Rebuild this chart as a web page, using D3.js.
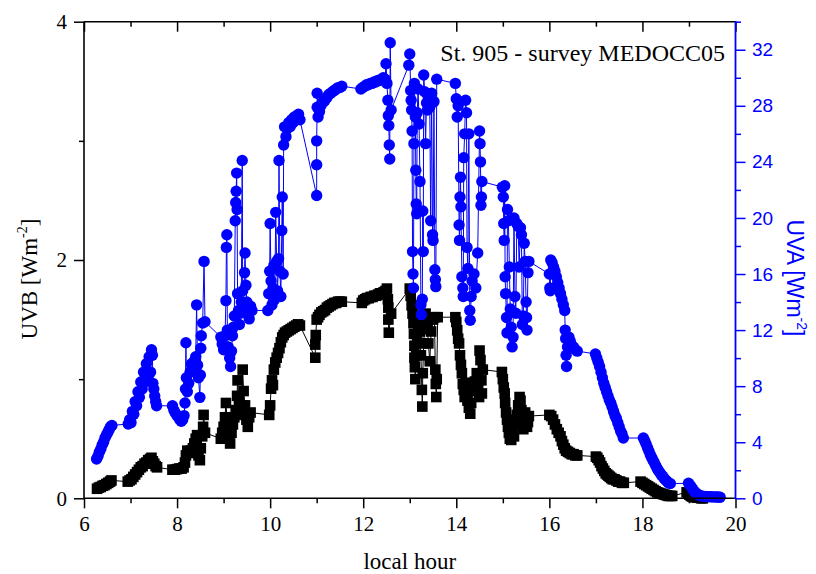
<!DOCTYPE html>
<html>
<head>
<meta charset="utf-8">
<script src="https://cdn.jsdelivr.net/npm/d3@7"></script>
<style>
  body { margin: 0; background: #fff; }
  .serif { font-family: "Liberation Serif", "Times New Roman", serif; }
  .sans { font-family: "Liberation Sans", Arial, sans-serif; }
</style>
</head>
<body>
<svg id="chart" width="816" height="574"></svg>
<script>
// axis ticks
var hourTicks = [6, 8, 10, 12, 14, 16, 18, 20];
var hourMinor = [7, 9, 11, 13, 15, 17, 19];
var uvbTicks = [0, 2, 4];
var uvbMinor = [1, 3];
var uvaTicks = [0, 4, 8, 12, 16, 20, 24, 28, 32];
var uvaMinor = [2, 6, 10, 14, 18, 22, 26, 30, 34];

// UVB [W m-2] vs local hour (black squares)
var uvbData = [
  [6.28,0.08],[6.32,0.09],[6.36,0.095],[6.40,0.105],[6.44,0.11],[6.48,0.12],[6.52,0.13],[6.56,0.14],[6.59,0.15],
  [6.94,0.14],[6.98,0.15],[7.02,0.16],[7.06,0.18],[7.10,0.2],[7.14,0.22],[7.18,0.24],[7.22,0.26],[7.26,0.27],[7.30,0.29],
  [7.34,0.3],[7.38,0.32],[7.42,0.33],[7.45,0.34],[7.48,0.31],[7.51,0.29],[7.54,0.27],[7.57,0.26],
  [7.90,0.24],[7.95,0.24],[8.0,0.245],[8.05,0.25],[8.10,0.25],[8.14,0.26],[8.17,0.3],[8.19,0.36],[8.22,0.4],[8.26,0.38],
  [8.30,0.4],[8.34,0.42],[8.37,0.46],[8.40,0.5],[8.43,0.53],[8.46,0.36],[8.49,0.32],[8.51,0.42],[8.54,0.52],[8.56,0.6],
  [8.57,0.7],[8.6,0.55],
  [8.94,0.5],[8.97,0.55],[9.0,0.6],[9.03,0.68],[9.05,0.8],[9.08,0.62],[9.11,0.52],[9.14,0.46],[9.17,0.55],[9.2,0.62],
  [9.23,0.68],[9.26,0.74],[9.29,0.86],[9.3,0.99],[9.33,0.82],[9.36,0.7],[9.39,0.78],[9.41,1.08],[9.43,0.9],[9.46,0.78],
  [9.49,0.66],[9.52,0.6],[9.55,0.68],[9.58,0.72],
  [9.98,0.7],[10.0,0.78],[10.02,0.92],[10.04,0.99],[10.06,0.95],[10.08,1.08],[10.11,1.14],[10.14,1.18],[10.17,1.22],
  [10.2,1.26],[10.23,1.31],[10.26,1.35],[10.29,1.37],[10.32,1.39],[10.36,1.4],[10.4,1.41],[10.44,1.42],[10.48,1.43],
  [10.52,1.44],[10.56,1.45],[10.6,1.46],[10.64,1.45],
  [10.97,1.18],[10.97,1.29],[10.98,1.37],[11.0,1.5],[11.03,1.52],[11.06,1.54],[11.1,1.56],[11.14,1.57],[11.18,1.58],
  [11.22,1.6],[11.26,1.61],[11.3,1.62],[11.34,1.63],[11.38,1.64],[11.42,1.64],[11.46,1.65],[11.5,1.65],[11.54,1.65],
  [11.97,1.64],[12.0,1.66],[12.04,1.67],[12.08,1.68],[12.12,1.68],[12.16,1.69],[12.2,1.69],[12.24,1.7],[12.28,1.7],
  [12.32,1.71],[12.36,1.72],[12.4,1.72],[12.44,1.73],[12.48,1.74],[12.51,1.76],[12.53,1.67],[12.54,1.6],[12.54,1.5],
  [12.55,1.39],[12.6,1.55],
  [13.0,1.76],[13.02,1.7],[13.04,1.62],[13.06,1.55],[13.08,1.47],[13.09,1.38],[13.1,1.28],[13.1,1.18],[13.11,1.1],
  [13.12,1.0],[13.14,1.2],[13.16,1.35],[13.18,1.45],[13.2,1.5],[13.22,1.4],[13.24,1.2],[13.26,0.91],[13.27,0.77],
  [13.28,1.05],[13.3,1.3],[13.32,1.45],[13.34,1.55],[13.36,1.5],[13.38,1.42],[13.4,1.3],[13.43,1.15],[13.46,1.4],
  [13.5,1.5],[13.53,1.52],[13.55,1.08],[13.56,0.96],[13.57,0.85],[13.58,1.0],[13.6,1.52],
  [13.98,1.52],[14.0,1.48],[14.02,1.41],[14.04,1.34],[14.06,1.3],[14.08,1.2],[14.1,1.12],[14.12,1.05],[14.14,0.96],
  [14.16,0.91],[14.18,0.85],[14.2,0.97],[14.22,0.9],[14.24,0.82],[14.27,0.76],[14.3,0.71],[14.32,0.8],[14.36,0.9],
  [14.4,0.98],[14.44,1.05],[14.47,0.95],[14.49,0.85],[14.5,1.24],[14.52,1.16],[14.54,0.99],[14.55,0.88],[14.57,1.08],
  [14.98,1.06],[15.0,1.0],[15.02,0.93],[15.04,0.88],[15.05,0.8],[15.07,0.72],[15.09,0.66],[15.11,0.6],[15.13,0.55],
  [15.15,0.5],[15.18,0.49],[15.21,0.56],[15.24,0.52],[15.27,0.62],[15.3,0.7],[15.33,0.78],[15.36,0.85],[15.38,0.82],
  [15.4,0.74],[15.42,0.64],[15.44,0.58],[15.46,0.66],[15.48,0.72],[15.5,0.68],[15.52,0.6],[15.54,0.64],[15.56,0.69],
  [16.0,0.7],[16.04,0.69],[16.08,0.66],[16.12,0.62],[16.16,0.58],[16.2,0.55],[16.24,0.52],[16.27,0.48],[16.3,0.45],
  [16.33,0.42],[16.36,0.4],[16.4,0.39],[16.44,0.38],[16.48,0.37],[16.52,0.37],[16.56,0.36],[16.6,0.36],
  [17.0,0.35],[17.03,0.34],[17.06,0.32],[17.09,0.3],[17.12,0.27],[17.15,0.25],[17.18,0.23],[17.21,0.21],[17.24,0.2],
  [17.27,0.19],[17.3,0.18],[17.33,0.17],[17.36,0.16],[17.4,0.16],[17.44,0.15],[17.48,0.14],[17.52,0.14],[17.56,0.13],
  [17.6,0.13],
  [17.96,0.14],[18.0,0.13],[18.04,0.12],[18.08,0.11],[18.12,0.1],[18.16,0.09],[18.2,0.08],[18.24,0.07],[18.28,0.06],
  [18.32,0.05],[18.36,0.045],[18.4,0.04],[18.44,0.035],[18.48,0.03],[18.52,0.025],[18.56,0.02],[18.6,0.02],[18.64,0.02],
  [18.95,0.05],[18.98,0.04],[19.01,0.03],[19.04,0.02],[19.07,0.015],[19.1,0.01],[19.14,0.01],[19.18,0.005],[19.22,0.005],
  [19.26,0.0],[19.3,0.0]
];

// UVA [W m-2] vs local hour (blue circles)
var uvaData = [
  [6.27,2.8],[6.3,3.0],[6.33,3.3],[6.36,3.5],[6.39,3.8],[6.42,4.0],[6.45,4.3],[6.48,4.5],[6.51,4.7],[6.54,4.9],[6.57,5.1],[6.6,5.2],
  [6.95,5.3],[6.98,5.6],[7.01,5.4],[7.04,6.2],[7.07,6.0],[7.1,6.9],[7.13,6.6],[7.16,7.6],[7.19,7.2],[7.22,8.3],[7.25,7.8],
  [7.28,9.0],[7.31,8.3],[7.34,9.6],[7.37,8.6],[7.4,10.1],[7.43,9.0],[7.45,10.6],[7.47,10.2],[7.48,8.2],[7.5,7.8],[7.52,7.3],
  [7.54,6.9],[7.56,6.6],
  [7.90,6.6],[7.93,6.3],[7.96,6.1],[8.0,5.9],[8.03,5.8],[8.06,5.6],[8.09,5.5],[8.12,5.6],[8.15,5.9],[8.17,6.8],[8.18,7.8],
  [8.19,11.1],[8.2,8.6],[8.22,7.6],[8.25,8.2],[8.28,9.0],[8.31,9.6],[8.34,9.2],[8.37,9.8],[8.40,10.1],[8.42,13.8],[8.44,9.5],
  [8.46,8.6],[8.49,7.2],[8.5,8.8],[8.51,10.7],[8.52,11.6],[8.55,12.5],[8.58,16.9],[8.6,12.6],
  [8.94,11.5],[8.97,11.0],[9.0,10.6],[9.03,11.6],[9.05,14.1],[9.06,17.9],[9.07,18.8],[9.08,12.0],[9.1,10.8],[9.13,10.0],
  [9.15,9.4],[9.17,10.5],[9.19,11.6],[9.21,12.2],[9.23,13.0],[9.25,19.8],[9.26,21.1],[9.27,21.9],[9.28,23.2],[9.29,20.6],
  [9.3,14.6],[9.32,13.4],[9.34,12.4],[9.36,13.2],[9.38,14.0],[9.4,24.1],[9.41,14.8],[9.43,13.5],[9.45,16.1],[9.46,17.5],
  [9.48,15.2],[9.5,14.0],[9.53,13.2],[9.55,12.8],[9.58,13.7],[9.61,13.4],
  [9.95,13.4],[9.97,14.6],[9.99,16.2],[10.0,19.6],[10.02,15.5],[10.04,13.8],[10.06,15.0],[10.08,16.6],[10.1,14.2],
  [10.12,20.4],[10.14,16.9],[10.16,14.8],[10.18,17.1],[10.19,24.1],[10.21,16.2],[10.23,14.4],[10.25,19.1],[10.26,21.5],
  [10.28,16.0],[10.29,25.2],[10.31,26.5],[10.34,25.8],[10.37,26.4],[10.4,26.8],[10.43,26.5],[10.46,27.0],[10.49,26.8],
  [10.52,27.2],[10.55,27.0],[10.58,27.3],[10.61,27.4],[10.64,27.0],
  [11.0,21.6],[11.0,23.8],[11.0,25.5],[11.01,27.9],[11.01,28.9],[11.03,27.2],[11.06,27.6],[11.09,28.0],[11.12,28.2],
  [11.15,28.3],[11.18,28.4],[11.22,28.6],[11.26,28.8],[11.3,28.9],[11.34,29.0],[11.38,29.1],[11.42,29.2],[11.46,29.3],
  [11.5,29.3],[11.54,29.4],
  [11.95,29.2],[11.99,29.3],[12.03,29.4],[12.07,29.5],[12.11,29.5],[12.15,29.6],[12.19,29.6],[12.23,29.7],[12.27,29.7],
  [12.31,29.8],[12.35,29.8],[12.39,29.9],[12.43,30.0],[12.47,29.9],[12.49,31.0],[12.51,29.6],[12.53,28.4],[12.54,27.3],
  [12.55,26.6],[12.56,25.2],[12.57,24.2],[12.58,32.5],[12.6,27.7],
  [12.98,30.9],[13.0,31.7],[13.02,29.1],[13.03,28.4],[13.04,27.7],[13.05,26.2],[13.06,17.6],[13.07,16.0],[13.08,15.0],
  [13.09,25.3],[13.1,29.6],[13.12,27.2],[13.13,23.4],[13.14,21.0],[13.15,20.3],[13.16,27.5],[13.18,29.2],[13.2,26.7],
  [13.22,22.6],[13.24,13.8],[13.25,13.1],[13.27,14.2],[13.28,20.5],[13.29,17.6],[13.3,30.2],[13.32,29.0],[13.34,25.3],
  [13.36,28.2],[13.38,27.7],[13.4,28.6],[13.43,27.9],[13.45,19.8],[13.47,28.9],[13.49,18.8],[13.5,18.4],[13.52,28.3],
  [13.54,16.3],[13.55,15.6],[13.56,15.1],[13.58,29.9],
  [13.98,29.6],[14.0,28.5],[14.02,27.2],[14.04,28.0],[14.06,19.5],[14.07,18.4],[14.08,21.5],[14.09,22.9],[14.1,20.8],
  [14.12,15.8],[14.14,15.0],[14.15,14.4],[14.16,24.3],[14.18,26.0],[14.2,28.4],[14.22,27.5],[14.23,17.9],[14.25,16.4],
  [14.27,26.0],[14.29,13.4],[14.3,12.7],[14.32,14.4],[14.34,15.5],[14.38,16.0],[14.42,15.0],[14.46,17.5],[14.5,26.2],
  [14.51,25.3],[14.52,24.0],[14.53,20.9],[14.54,21.5],[14.55,22.6],
  [14.99,22.2],[15.01,21.5],[15.02,19.6],[15.03,18.4],[15.04,22.3],[15.05,15.8],[15.06,14.6],[15.08,12.9],[15.09,11.8],
  [15.1,20.6],[15.12,19.8],[15.14,16.5],[15.16,13.5],[15.18,12.2],[15.2,10.8],[15.22,11.5],[15.24,20.0],[15.26,14.4],
  [15.28,13.2],[15.3,19.6],[15.33,19.4],[15.35,16.5],[15.38,19.3],[15.4,18.8],[15.42,12.4],[15.44,13.0],[15.46,18.2],
  [15.48,16.9],[15.5,14.0],[15.51,12.9],[15.52,12.0],[15.54,16.1],[15.56,16.9],
  [16.0,16.0],[16.01,15.0],[16.02,14.8],[16.03,17.0],[16.06,16.8],[16.09,16.5],[16.12,16.2],[16.15,15.8],[16.18,15.4],
  [16.21,15.0],[16.24,14.6],[16.27,14.2],[16.3,13.8],[16.33,13.4],[16.34,12.0],[16.35,11.4],[16.36,10.2],[16.37,9.4],
  [16.39,10.8],[16.42,11.5],[16.45,11.2],[16.48,10.9],[16.52,10.8],[16.56,10.6],[16.6,10.5],
  [16.99,10.3],[17.02,10.0],[17.05,9.7],[17.08,9.4],[17.11,9.0],[17.14,8.6],[17.17,8.2],[17.2,7.9],[17.23,7.6],[17.26,7.3],
  [17.29,7.0],[17.32,6.8],[17.35,6.5],[17.38,6.2],[17.41,5.9],[17.44,5.7],[17.47,5.4],[17.5,5.1],[17.53,4.8],[17.56,4.6],
  [17.59,4.3],
  [18.02,4.3],[18.05,4.1],[18.08,3.85],[18.11,3.6],[18.14,3.35],[18.17,3.1],[18.2,2.9],[18.23,2.7],[18.26,2.5],[18.29,2.3],
  [18.32,2.1],[18.35,1.95],[18.38,1.8],[18.41,1.65],[18.44,1.55],[18.47,1.4],[18.5,1.3],[18.53,1.2],[18.56,1.1],[18.6,1.05],
  [18.99,1.07],[19.02,0.95],[19.05,0.8],[19.08,0.65],[19.11,0.5],[19.14,0.4],[19.17,0.32],[19.2,0.25],[19.23,0.2],
  [19.27,0.16],[19.31,0.14],[19.35,0.13],[19.39,0.12],[19.43,0.12],[19.47,0.11],[19.51,0.1],[19.55,0.1],[19.59,0.09],
  [19.63,0.09],[19.67,0.08]
];

var blue = '#0000ff';
var svg = d3.select('#chart');

// plot box in pixels
var plotLeft = 84, plotRight = 735.5, plotTop = 21.7, plotBottom = 498.3;
var x = d3.scaleLinear().domain([6, 20]).range([plotLeft, plotRight]);
var yL = d3.scaleLinear().domain([0, 4]).range([plotBottom, plotTop]);
var yR = d3.scaleLinear().domain([0, 34]).range([plotBottom, plotTop]);

var sq = 10.6;   // square marker side
var rad = 5.7;   // circle marker radius

// UVB series
svg.append('path')
  .datum(uvbData)
  .attr('fill', 'none')
  .attr('stroke', '#000')
  .attr('stroke-width', 1)
  .attr('d', d3.line().x(function (d) { return x(d[0]); }).y(function (d) { return yL(d[1]); }));

svg.append('g').selectAll('rect')
  .data(uvbData).enter().append('rect')
  .attr('x', function (d) { return x(d[0]) - sq / 2; })
  .attr('y', function (d) { return yL(d[1]) - sq / 2; })
  .attr('width', sq)
  .attr('height', sq)
  .attr('fill', '#000');

// UVA series
svg.append('path')
  .datum(uvaData)
  .attr('fill', 'none')
  .attr('stroke', blue)
  .attr('stroke-width', 1)
  .attr('d', d3.line().x(function (d) { return x(d[0]); }).y(function (d) { return yR(d[1]); }));

svg.append('g').selectAll('circle')
  .data(uvaData).enter().append('circle')
  .attr('cx', function (d) { return x(d[0]); })
  .attr('cy', function (d) { return yR(d[1]); })
  .attr('r', rad)
  .attr('fill', blue);

// axes
function styleTicks(g) {
  g.select('.domain').remove();
  g.selectAll('.tick line').attr('stroke-width', 1.5);
}

// bottom
svg.append('g').attr('transform', 'translate(0,' + plotBottom + ')')
  .call(d3.axisBottom(x).tickValues(hourTicks).tickSize(10).tickFormat(d3.format('d')))
  .call(styleTicks)
  .call(function (g) {
    g.selectAll('text').attr('class', 'serif').attr('font-size', 21)
      .attr('y', 33).attr('dy', 0).attr('fill', '#000');
  });
svg.append('g').attr('transform', 'translate(0,' + plotBottom + ')')
  .call(d3.axisBottom(x).tickValues(hourMinor).tickSize(5).tickFormat(''))
  .call(styleTicks);

// top (inward ticks, no labels)
svg.append('g').attr('transform', 'translate(0,' + plotTop + ')')
  .call(d3.axisTop(x).tickValues(hourTicks).tickSize(-10).tickFormat(''))
  .call(styleTicks);
svg.append('g').attr('transform', 'translate(0,' + plotTop + ')')
  .call(d3.axisTop(x).tickValues(hourMinor).tickSize(-5).tickFormat(''))
  .call(styleTicks);

// left
svg.append('g').attr('transform', 'translate(' + plotLeft + ',0)')
  .call(d3.axisLeft(yL).tickValues(uvbTicks).tickSize(10).tickPadding(7).tickFormat(d3.format('d')))
  .call(styleTicks)
  .call(function (g) {
    g.selectAll('text').attr('class', 'serif').attr('font-size', 21).attr('fill', '#000');
  });
svg.append('g').attr('transform', 'translate(' + plotLeft + ',0)')
  .call(d3.axisLeft(yL).tickValues(uvbMinor).tickSize(5).tickFormat(''))
  .call(styleTicks);

// right (blue)
svg.append('g').attr('transform', 'translate(' + plotRight + ',0)')
  .attr('color', blue)
  .call(d3.axisRight(yR).tickValues(uvaTicks).tickSize(10).tickPadding(6.5).tickFormat(d3.format('d')))
  .call(styleTicks)
  .call(function (g) {
    g.selectAll('text').attr('class', 'sans').attr('font-size', 19);
  });
svg.append('g').attr('transform', 'translate(' + plotRight + ',0)')
  .attr('color', blue)
  .call(d3.axisRight(yR).tickValues(uvaMinor).tickSize(5.5).tickFormat(''))
  .call(styleTicks);

// frame
svg.append('line').attr('x1', plotLeft).attr('x2', plotRight).attr('y1', plotBottom).attr('y2', plotBottom)
  .attr('stroke', '#000').attr('stroke-width', 1.6);
svg.append('line').attr('x1', plotLeft).attr('x2', plotRight).attr('y1', plotTop).attr('y2', plotTop)
  .attr('stroke', '#000').attr('stroke-width', 1.6);
svg.append('line').attr('x1', plotLeft).attr('x2', plotLeft).attr('y1', plotTop).attr('y2', plotBottom)
  .attr('stroke', '#000').attr('stroke-width', 1.6);
svg.append('line').attr('x1', plotRight).attr('x2', plotRight).attr('y1', plotTop - 0.8).attr('y2', plotBottom + 0.8)
  .attr('stroke', blue).attr('stroke-width', 1.8);

// titles
svg.append('text').attr('class', 'serif')
  .attr('x', (plotLeft + plotRight) / 2).attr('y', 569)
  .attr('text-anchor', 'middle').attr('font-size', 23)
  .text('local hour');

var uvbTitle = svg.append('text').attr('class', 'serif')
  .attr('transform', 'translate(37,279) rotate(-90)')
  .attr('text-anchor', 'middle').attr('font-size', 23);
uvbTitle.append('tspan').text('UVB [Wm');
uvbTitle.append('tspan').attr('font-size', 14).attr('dy', -10).text('-2');
uvbTitle.append('tspan').attr('dy', 10).text(']');

var uvaTitle = svg.append('text').attr('class', 'sans')
  .attr('transform', 'translate(787,278) rotate(90)')
  .attr('text-anchor', 'middle').attr('font-size', 23).attr('fill', blue);
uvaTitle.append('tspan').text('UVA [Wm');
uvaTitle.append('tspan').attr('font-size', 14).attr('dy', -10).text('-2');
uvaTitle.append('tspan').attr('dy', 10).text(']');

svg.append('text').attr('class', 'serif')
  .attr('x', 725).attr('y', 61)
  .attr('text-anchor', 'end').attr('font-size', 24)
  .text('St. 905 - survey MEDOCC05');
</script>
</body>
</html>
